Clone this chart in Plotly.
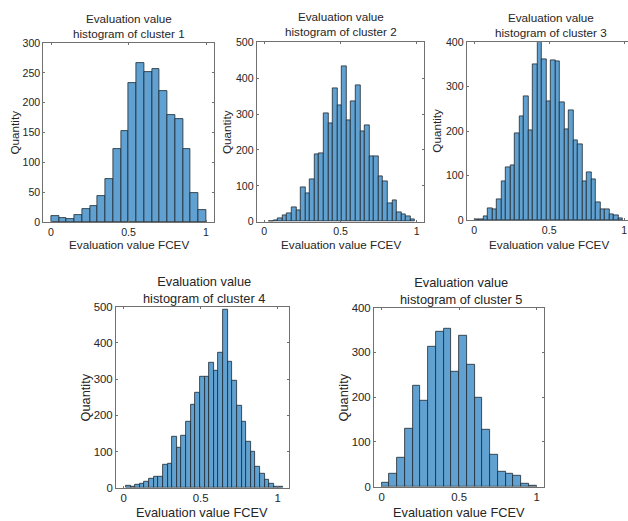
import plotly.graph_objects as go

W, H = 628, 521

# ---------------- data ----------------
c1_counts = [10, 7, 5, 11, 21, 27, 44, 72, 122, 152, 233, 266, 252, 257, 220, 179, 173, 123, 49, 20]
c1_start, c1_width = 0.0, 0.05

c2_counts = [1, 4, 10, 19, 23, 39, 32, 96, 80, 117, 189, 191, 303, 274, 373, 325, 432,
             283, 335, 379, 251, 269, 181, 183, 126, 114, 52, 59, 26, 21, 15, 7]
c2_start, c2_width = 0.03, 0.03

c3_counts = [1, 2, 9, 26, 25, 47, 86, 118, 124, 195, 233, 278, 203, 350, 401, 361, 268,
             360, 357, 266, 204, 246, 180, 170, 86, 107, 92, 39, 25, 23, 12, 11, 3]
c3_start, c3_width = 0.0, 0.03

c4_counts = [5, 3, 7, 11, 17, 25, 31, 31, 63, 66, 141, 111, 145, 183, 230, 262, 308, 308,
             345, 323, 373, 493, 348, 296, 226, 182, 127, 100, 58, 40, 21, 12, 3, 2]
c4_start, c4_width = 0.015, 0.03

c5_counts = [8, 29, 64, 129, 225, 193, 313, 346, 354, 258, 338, 273, 200, 128, 71, 34, 28, 25, 7, 3]
c5_start, c5_width = 0.0, 0.05

cluster_ids = [1, 2, 3, 4, 5]
x_tick_vals = [0, 0.5, 1]
y_tick_vals = [
    [0, 50, 100, 150, 200, 250, 300],
    [0, 100, 200, 300, 400, 500],
    [0, 100, 200, 300, 400],
    [0, 100, 200, 300, 400, 500],
    [0, 100, 200, 300, 400],
]
title_text = "Evaluation value<br>histogram of cluster {}"
x_label = "Evaluation value FCEV"
y_label = "Quantity"

series = [
    (c1_counts, c1_start, c1_width),
    (c2_counts, c2_start, c2_width),
    (c3_counts, c3_start, c3_width),
    (c4_counts, c4_start, c4_width),
    (c5_counts, c5_start, c5_width),
]

# ---------------- layout (pixels) ----------------
panels = [
    dict(box=(43.3, 213.8, 43.0, 222.0), xr=[-0.05, 1.05], yr=[0, 300], tc=(128.5, 26), ylx=14, xlx=128.5, xly=245, tf=10.6, lf=11.7, ymirror="ticks"),
    dict(box=(256.7, 424.3, 42.3, 221.7), xr=[-0.05, 1.05], yr=[0, 500], tc=(340.5, 24.5), ylx=227, xlx=340.5, xly=245, tf=10.6, lf=11.7, ymirror="ticks"),
    dict(box=(466.7, 628.0, 42.3, 220.0), xr=[-0.05, 1.025], yr=[0, 400], tc=(551, 24.7), ylx=436.5, xlx=549.3, xly=245, tf=10.6, lf=11.7, ymirror=False),
    dict(box=(116.0, 288.5, 306.7, 487.7), xr=[-0.05, 1.07], yr=[0, 500], tc=(204, 289.7), ylx=85.3, xlx=202, xly=512.5, tf=11.4, lf=12.8, ymirror="ticks"),
    dict(box=(374.0, 544.3, 307.7, 486.7), xr=[-0.05, 1.05], yr=[0, 400], tc=(461, 291.3), ylx=343.3, xlx=459, xly=512.5, tf=11.4, lf=12.8, ymirror="ticks"),
]

FONT = "Liberation Sans, Arial, Helvetica, sans-serif"
TXT = "#262626"
AXC = "#707070"
BAR_FILL = "#60a1d1"
BAR_EDGE = "#1e2830"


def px(x):
    return x / W


def py(y):
    return 1 - y / H


fig = go.Figure()
annotations = []
layout_axes = {}

for i, ((counts, start, width), p) in enumerate(zip(series, panels)):
    n = i + 1
    xa = "x" if n == 1 else f"x{n}"
    ya = "y" if n == 1 else f"y{n}"
    centers = [start + width * (k + 0.5) for k in range(len(counts))]
    fig.add_trace(go.Bar(
        x=centers, y=counts, width=width,
        marker=dict(color=BAR_FILL, line=dict(color=BAR_EDGE, width=0.8)),
        xaxis=xa, yaxis=ya, showlegend=False, hoverinfo="x+y",
    ))
    l, r, t, b = p["box"]
    xkey = "xaxis" if n == 1 else f"xaxis{n}"
    ykey = "yaxis" if n == 1 else f"yaxis{n}"
    layout_axes[xkey] = dict(
        domain=[px(l), px(r)], range=p["xr"], anchor=ya,
        tickvals=x_tick_vals, ticks="inside", ticklen=2, tickcolor=AXC,
        showline=True, linecolor=AXC, linewidth=1, mirror="ticks",
        showgrid=False, zeroline=False,
        tickfont=dict(family=FONT, size=p["tf"], color=TXT),
    )
    layout_axes[ykey] = dict(
        domain=[py(b), py(t)], range=p["yr"], anchor=xa,
        tickvals=y_tick_vals[i], ticks="inside", ticklen=2, tickcolor=AXC,
        showline=True, linecolor=AXC, linewidth=1, mirror=p["ymirror"],
        showgrid=False, zeroline=False,
        tickfont=dict(family=FONT, size=p["tf"], color=TXT),
    )
    annotations.append(dict(
        text=title_text.format(cluster_ids[i]), x=px(p["tc"][0]), y=py(p["tc"][1]),
        xref="paper", yref="paper", xanchor="center", yanchor="middle", showarrow=False,
        font=dict(family=FONT, size=p["lf"], color=TXT),
    ))
    annotations.append(dict(
        text=x_label, x=px(p["xlx"]), y=py(p["xly"]),
        xref="paper", yref="paper", xanchor="center", yanchor="middle", showarrow=False,
        font=dict(family=FONT, size=p["lf"], color=TXT),
    ))
    annotations.append(dict(
        text=y_label, x=px(p["ylx"]), y=py((t + b) / 2), textangle=-90,
        xref="paper", yref="paper", xanchor="center", yanchor="middle", showarrow=False,
        font=dict(family=FONT, size=p["lf"], color=TXT),
    ))

fig.update_layout(
    width=W, height=H, autosize=False,
    margin=dict(l=0, r=0, t=0, b=0, autoexpand=False),
    paper_bgcolor="white", plot_bgcolor="white",
    bargap=0, annotations=annotations, showlegend=False,
    **layout_axes,
)

fig.write_html(
    "out.html",
    config={"displayModeBar": False},
    post_script="document.body.style.margin='0px';document.body.style.overflow='hidden';",
)
